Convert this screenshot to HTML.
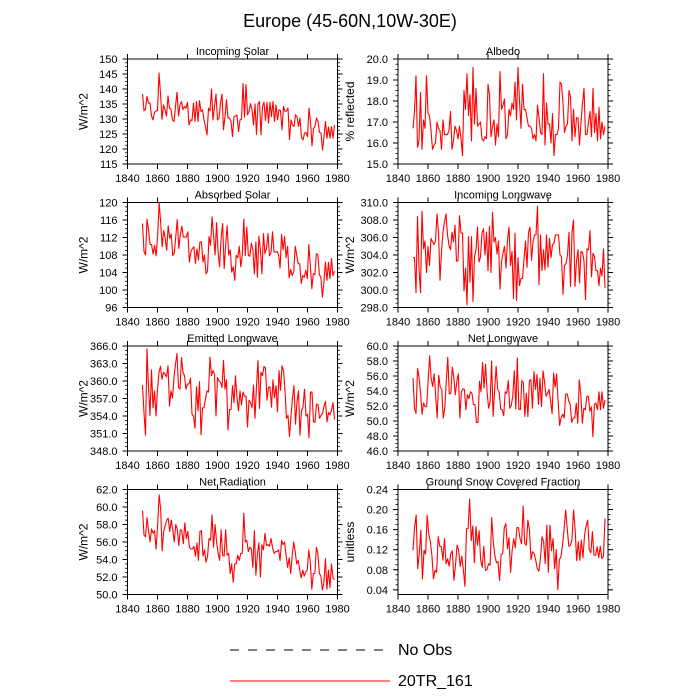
<!DOCTYPE html>
<html><head><meta charset="utf-8">
<style>
html,body{margin:0;padding:0;background:#fff;}
svg{display:block;font-family:"Liberation Sans",sans-serif;}
</style></head>
<body>
<svg id="chart" width="700" height="700" viewBox="0 0 700 700" xmlns="http://www.w3.org/2000/svg">
<text x="350" y="27" font-size="18" text-anchor="middle">Europe (45-60N,10W-30E)</text>
<g id="panels"></g>
<g>
<line x1="230" y1="650" x2="390" y2="650" stroke="#000" stroke-width="1" stroke-dasharray="9,9"/>
<text x="398" y="655" font-size="16">No Obs</text>
<line x1="230" y1="681" x2="390" y2="681" stroke="#f00" stroke-width="1"/>
<text x="398" y="686" font-size="16">20TR_161</text>
</g>
</svg>
<script>
const xTicks = [1840,1860,1880,1900,1920,1940,1960,1980];
const firstYear = 1850, lastYear = 1978;

const incomingSolar = [138.4,132.7,133.3,137.5,135.3,135.3,131,129.7,132.2,132.7,132.8,145.3,138.6,129.9,134.7,133.1,131,137.7,133.6,133.3,129.7,129.2,134.2,138.9,131,134.7,135.8,133.1,134.2,133.6,135.6,128,129.7,129.5,135.3,129.2,135.8,129.2,136.1,132.5,133.1,129.7,127.5,124.7,133.6,132.7,140,129.7,134.2,138.3,129.7,130.2,135.3,138.3,126.4,130.8,136.4,130.3,130.3,129.2,124.1,130.8,131,131.3,125.8,129.7,129.9,141.8,130.6,141.5,131.4,132.5,135.1,133.1,128,135,124.9,135,135.8,124.7,134.2,135.6,129.5,135.6,128.6,135.6,130.8,135.8,129.2,134.7,129.7,133.1,132.8,126.4,134.2,132.5,132.7,133.6,123.2,129.7,128,127.5,131.4,130.8,127.5,130.3,123.8,123,125.3,125.5,124.1,133.6,129.2,121,126.9,127.5,130.3,129.2,125.5,125.3,119.7,124.1,129.2,123.6,127.3,123.6,127.5,123.6,128];
const albedo = [16.7,17.5,19.2,15.8,16.1,18.4,15.7,17.1,16.7,19.2,17.4,17.3,16.6,15.7,15.9,16.0,17.0,16.7,16.6,15.7,17.1,16.4,16.4,16.4,16.6,17.5,15.7,16.1,16.8,16.6,16.2,16.8,16.2,15.4,18.5,17.6,19.3,17.3,18.3,16.1,19.6,16.9,18.6,16.8,16.9,17.0,16.2,16.1,16.3,16.2,18.8,18.3,16.3,16.8,17.1,15.9,16.9,16.3,19.4,17.6,17.8,18.1,16.2,16.4,17.6,17.3,17.9,17.6,18.9,17.1,19.6,18.0,16.7,18.8,17.6,17.6,17.2,16.8,16.8,16.7,16.2,16.4,16.1,17.8,17.2,16.5,16.4,19.3,15.9,17.9,16.9,16.9,16.0,17.4,15.4,16.4,16.4,16.7,18.9,18.8,17.9,16.5,16.8,16.9,18.5,18.2,16.1,17.6,16.3,17.2,17.2,15.9,17.0,17.9,18.6,16.4,16.4,17.0,17.5,16.3,18.6,16.5,17.4,16.1,17.7,16.2,17.0,16.4,16.8];
const absorbedSolar = [115.2,108.8,108.0,116.2,113.7,110.4,110.4,108.2,110.2,107.8,112.3,120,115.6,109.9,113.6,111.8,109.1,114.7,111.8,112.8,107.9,108.4,112.2,116.1,109.5,112.6,114.6,112.1,112.1,112.1,113.3,106.4,108.7,109.5,109.9,106.1,109.4,106.9,111.0,111.0,106.4,108.0,103.7,104.3,112.2,110.2,116.7,112.5,108.0,115.4,108.7,105.3,111.8,115.2,104.9,110.2,114.7,108.0,109.2,104.1,105.3,102.2,107.9,107.4,110.0,105.3,107.9,116.2,107.9,114.4,107.9,107.7,110.7,109.2,103.7,111.0,102.9,112.3,109.2,103.7,112.9,108.3,109.5,112.9,107.8,108.5,113.3,108.7,108.7,108.8,108.1,105.0,112.7,109.2,112.2,107.4,110.0,102.8,104.7,103.3,104.1,110.0,108.0,106.0,106.0,101.5,103.3,102.9,104.5,102.6,110.4,105.7,100.3,103.7,103.5,108.3,108.1,103.5,102.9,98.4,101.8,106.4,102.2,106.3,102.6,107.2,103.3,104.3];
const incomingLongwave = [303.7,303.7,299.7,308.4,302.5,299.7,309.0,304.7,305.6,302.0,305.0,302.8,305.9,305.5,305.2,305.6,308.7,306.6,301.1,304.4,306.6,307.8,308.7,306.3,305.1,304.6,306.6,305.5,307.4,303.3,303.3,308.5,306.5,306.5,299.9,302.5,298.3,306.1,300.9,306.1,298.7,303.8,304.6,307.2,303.2,303.8,306.5,307.0,304.0,306.6,302.2,307.3,302.0,308.9,305.5,306.0,304.1,305.6,300.1,303.2,304.2,305.0,302.5,305.7,307.2,302.8,304.4,299.0,306.5,298.8,303.7,300.5,301.3,301.3,303.5,305.6,302.6,306.6,307.2,303.4,305.5,306.3,306.3,309.6,300.6,306.3,302.2,304.6,302.3,306.3,302.6,305.9,303.7,305.2,305.3,306.3,306.3,306.3,304.0,303.8,299.5,302.8,303.0,304.0,306.6,300.4,306.6,308.0,300.4,303.3,304.6,300.8,304.4,304.3,303.3,298.9,304.7,304.6,306.8,301.5,304.2,303.8,302.2,302.2,300.5,302.5,301.6,304.7,300.2];
const emittedLongwave = [359.3,354.5,350.7,365.5,358.9,354.1,361.9,355.4,358.3,354.0,358.6,361.5,362.5,360.3,361.5,361.2,360.7,362.6,355.7,358.3,357.1,360.6,362.9,364.7,358.9,358.6,364.0,361.5,360.9,358.6,359.5,359.5,360.5,354.3,354.0,351.9,359.0,354.9,359.9,350.8,355.4,355.4,356.9,358.3,358.1,364.1,360.9,361.8,361.2,354.0,360.6,360.0,359.8,358.9,363.5,358.6,360.2,351.6,355.1,355.1,359.2,356.3,360.9,357.1,354.9,358.3,355.9,358.1,357.4,357.4,352.1,356.7,356.3,355.4,359.3,353.6,359.2,363.5,355.3,361.5,360.9,362.5,362.2,356.7,358.9,359.0,355.5,360.2,357.1,359.2,354.7,361.8,358.4,362.6,361.8,358.3,353.6,354.1,350.5,354.1,357.1,359.2,352.6,356.5,358.3,350.7,354.9,355.5,358.6,354.0,354.3,350.3,358.1,358.1,353.0,352.9,356.0,356.0,353.6,354.1,354.4,355.7,356.5,353.0,354.6,354.2,355.0,356.3,353.4];
const netLongwave = [55.7,51.7,51.0,57.0,55.8,53.7,50.9,52.4,51.9,51.9,55.3,58.7,55.7,54.6,56.3,53.3,50.4,56.1,54.5,54.2,50.4,51.7,55.3,58.5,53.6,53.7,57.2,55.8,53.5,55.3,56.3,50.4,53.9,54.3,54.2,51.5,53.5,53.0,53.9,53.7,52.2,52.2,49.8,49.8,55.3,53.9,57.8,54.4,57.6,53.9,51.7,52.6,58.0,50.6,54.2,57.3,54.2,53.9,51.6,51.5,50.7,53.9,53.7,55.4,51.7,52.1,53.3,56.7,51.6,58.4,51.6,51.5,55.4,55.1,50.6,53.7,50.6,55.4,55.5,51.7,56.6,54.2,56.2,52.2,55.7,51.9,56.7,55.2,53.3,53.7,54.2,52.7,51.0,56.4,54.5,56.3,52.6,49.4,50.4,50.9,50.4,53.6,53.6,52.7,52.2,49.8,50.4,50.4,52.4,49.7,55.5,53.5,49.7,51.7,51.5,53.3,53.3,51.3,51.9,47.9,52.2,52.4,51.5,53.9,51.5,53.9,51.7,52.8];
const netRadiation = [59.6,56.8,56.6,58.8,57.3,56.0,57.5,57.0,57.3,55.2,57.9,61.4,59.8,55.0,57.2,57.9,58.5,58.7,57.2,58.5,57.4,56.0,58.0,57.5,55.6,57.4,57.3,55.8,58.2,56.4,57.2,55.4,55.2,55.2,55.5,54.4,55.9,53.9,57.2,57.3,54.4,55.1,53.7,54.3,56.4,56.2,59.1,55.4,58.0,56.0,54.7,53.9,57.4,54.5,54.4,57.4,54.5,54.7,52.4,53.5,51.4,53.5,53.5,54.5,53.9,54.7,54.7,59.3,56.0,56.2,54.9,55.4,55.2,53.1,57.3,52.2,54.7,55.9,52.0,55.7,55.1,57.0,55.6,55.7,55.5,56.4,55.4,54.7,54.9,54.9,55.1,53.9,56.2,55.7,56.0,54.5,53.1,54.2,52.4,54.4,56.0,54.9,53.5,53.9,52.8,51.9,52.8,52.1,52.6,52.8,55.1,53.7,50.6,52.4,52.4,55.4,54.7,52.4,52.1,50.5,51.4,54.1,50.6,52.8,50.8,53.5,51.9,51.7];
const snowFraction = [0.119,0.164,0.189,0.082,0.112,0.159,0.062,0.119,0.111,0.189,0.151,0.136,0.109,0.062,0.079,0.075,0.146,0.127,0.126,0.099,0.142,0.092,0.102,0.087,0.112,0.118,0.059,0.089,0.129,0.119,0.087,0.107,0.080,0.047,0.162,0.162,0.221,0.138,0.167,0.094,0.166,0.129,0.158,0.099,0.085,0.127,0.079,0.080,0.092,0.089,0.184,0.136,0.109,0.094,0.096,0.059,0.111,0.112,0.164,0.172,0.122,0.144,0.075,0.119,0.142,0.124,0.164,0.164,0.142,0.132,0.207,0.132,0.129,0.179,0.159,0.100,0.116,0.112,0.099,0.082,0.077,0.104,0.146,0.136,0.092,0.169,0.075,0.169,0.118,0.142,0.082,0.120,0.040,0.100,0.106,0.129,0.160,0.199,0.162,0.127,0.129,0.139,0.199,0.162,0.098,0.136,0.099,0.139,0.104,0.149,0.167,0.179,0.120,0.114,0.156,0.109,0.109,0.126,0.104,0.127,0.102,0.107,0.182];

const panelTitles = ["Incoming Solar","Albedo","Absorbed Solar","Incoming Longwave","Emitted Longwave","Net Longwave","Net Radiation","Ground Snow Covered Fraction"];
const panelYTitles = ["W/m^2","% reflected","W/m^2","W/m^2","W/m^2","W/m^2","W/m^2","unitless"];
const panelSeries = [incomingSolar,albedo,absorbedSolar,incomingLongwave,emittedLongwave,netLongwave,netRadiation,snowFraction];
const yMins = [115,15,96,298,348,46,50,0.0307];
const yMaxs = [150,20,120,310,366,60,62,0.24];
const yFirstTicks = [115,15,96,298,348,46,50,0.04];
const ySteps = [5,1,4,2,3,2,2,0.04];
const yDecimals = [0,1,0,1,1,1,1,2];

const NS = "http://www.w3.org/2000/svg";
const root = document.getElementById('panels');
function mk(tag, attrs, parent){
  const e = document.createElementNS(NS, tag);
  for (const k in attrs) e.setAttribute(k, attrs[k]);
  parent.appendChild(e);
  return e;
}
const colX = [127.5, 398];
const rowY = [59, 202.5, 346, 489.5];
const PW = 210, PH = 105;
const slug = s => s.toLowerCase().replace(/[^a-z0-9]+/g,'-').replace(/^-|-$/g,'');

for (let p = 0; p < 8; p++) {
  const x0 = colX[p % 2], y0 = rowY[Math.floor(p / 2)];
  const name = slug(panelTitles[p]);
  const g = mk('g', {}, root);
  
  
  const xs = yr => x0 + (yr - 1840) / 140 * PW;
  const ys = v => y0 + PH - (v - yMins[p]) / (yMaxs[p] - yMins[p]) * PH;

  const title = mk('text', {x: x0 + PW / 2, y: y0 - 4, 'font-size': 11, 'text-anchor': 'middle'}, g);
  title.textContent = panelTitles[p];
  
  

  const ytx = p % 2 === 0 ? x0 - 40 : x0 - 44;
  const yt = mk('text', {x: ytx, y: y0 + PH / 2, 'font-size': 12, 'text-anchor': 'middle', transform: `rotate(-90 ${ytx} ${y0 + PH / 2})`}, g);
  yt.textContent = panelYTitles[p];
  
  

  const xg = mk('g', {}, g);
  
  
  xTicks.forEach(t => {
    const x = xs(t);
    mk('line', {x1: x, x2: x, y1: y0 + PH, y2: y0 + PH + 5, stroke: '#000', 'stroke-width': 1}, xg);
    mk('line', {x1: x, x2: x, y1: y0, y2: y0 - 5, stroke: '#000', 'stroke-width': 1}, xg);
    const lb = mk('text', {x: x, y: y0 + PH + 18, 'font-size': 11, 'text-anchor': 'middle'}, xg);
    lb.textContent = t;
    
    
  });
  const yg = mk('g', {}, g);
  
  
  const minor = ySteps[p] / 4;
  for (let v = yFirstTicks[p] - ySteps[p]; v <= yMaxs[p] + 1e-9; v += minor) {
    if (v < yMins[p] - 1e-9) continue;
    const y = ys(v);
    mk('line', {x1: x0, x2: x0 - 2.5, y1: y, y2: y, stroke: '#000', 'stroke-width': 0.8}, yg);
    mk('line', {x1: x0 + PW, x2: x0 + PW + 2.5, y1: y, y2: y, stroke: '#000', 'stroke-width': 0.8}, yg);
  }
  for (let v = yFirstTicks[p]; v <= yMaxs[p] + 1e-9; v += ySteps[p]) {
    const y = ys(v);
    mk('line', {x1: x0, x2: x0 - 5, y1: y, y2: y, stroke: '#000', 'stroke-width': 1}, yg);
    mk('line', {x1: x0 + PW, x2: x0 + PW + 5, y1: y, y2: y, stroke: '#000', 'stroke-width': 1}, yg);
    const lb = mk('text', {x: x0 - 10, y: y + 4, 'font-size': 11, 'text-anchor': 'end'}, yg);
    lb.textContent = v.toFixed(yDecimals[p]);
    
    
  }
  const fr = mk('rect', {x: x0, y: y0, width: PW, height: PH, fill: 'none', stroke: '#000', 'stroke-width': 1}, g);
  
  
  const data = panelSeries[p];
  const n = data.length;
  const pts = data.map((v, i) => xs(firstYear + i * (lastYear - firstYear) / (n - 1)).toFixed(2) + ',' + ys(v).toFixed(2)).join(' ');
  const line = mk('polyline', {points: pts, fill: 'none', stroke: '#f00', 'stroke-width': 1.1, 'stroke-linejoin': 'round'}, g);
  
  
}
</script>
</body></html>
